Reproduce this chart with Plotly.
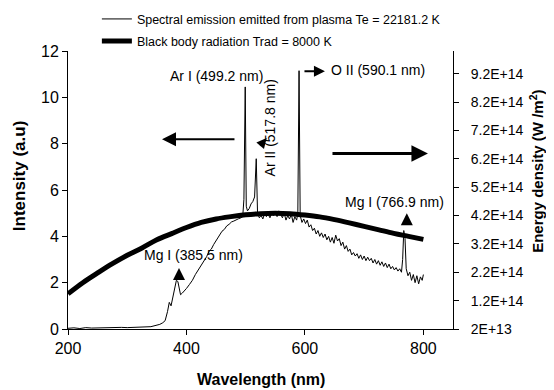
import plotly.graph_objects as go

# ---------------- data ----------------
wavelength = [
    200, 210, 220, 230, 240, 250, 260, 270, 280, 290,
    300, 310, 320, 330, 340, 345, 350, 355, 360, 364,
    368, 371, 374, 377, 380, 383, 385.5, 388, 390, 393,
    396, 400, 405, 410, 415, 420, 425, 430, 434, 438,
    442, 446, 450, 455, 460, 464, 468, 472, 476, 480,
    484, 488, 492, 495, 497, 499.2, 501, 503, 506, 509,
    512, 515, 517.8, 520, 523, 526, 529, 532, 535, 538,
    541, 544, 547, 550, 553, 556, 559, 562, 565, 568,
    571, 574, 577, 580, 583, 586, 588, 590.1, 592, 595,
    598, 601, 604, 607, 610, 613, 616, 619, 622, 625,
    628, 631, 634, 637, 640, 643, 646, 649, 652, 655,
    658, 661, 664, 667, 670, 673, 676, 679, 682, 685,
    688, 691, 694, 697, 700, 703, 706, 709, 712, 715,
    718, 721, 724, 727, 730, 733, 736, 739, 742, 745,
    748, 751, 754, 757, 760, 763, 765, 766.9, 769, 771,
    774, 777, 780, 783, 786, 789, 792, 795, 798, 800,
]
intensity = [
    0.03, 0.05, 0.02, 0.06, 0.04, 0.05, 0.03, 0.06, 0.05, 0.07,
    0.06, 0.08, 0.07, 0.09, 0.10, 0.13, 0.16, 0.20, 0.27, 0.36,
    0.75, 1.15, 1.00, 1.40, 1.65, 2.10, 2.05, 1.65, 1.48, 1.55,
    1.62, 1.75, 1.92, 2.10, 2.35, 2.55, 2.80, 2.95, 3.12, 3.35,
    3.45, 3.65, 3.80, 4.00, 4.22, 4.30, 4.45, 4.52, 4.62, 4.66,
    4.72, 4.76, 4.80, 4.85, 5.60, 10.45, 5.30, 5.10, 5.20, 5.40,
    5.50, 5.70, 7.35, 5.00, 4.80, 4.90, 4.75, 5.00, 4.85, 4.95,
    4.80, 5.05, 4.90, 5.00, 4.85, 5.10, 4.95, 4.80, 5.00, 4.70,
    4.90, 4.75, 4.95, 4.60, 4.85, 4.70, 5.00, 11.15, 4.90, 4.60,
    4.75, 4.55, 4.70, 4.40, 4.50, 4.25, 4.35, 4.10, 4.25, 4.00,
    4.15, 3.95, 4.10, 3.85, 4.00, 3.75, 3.95, 3.70, 4.05, 3.80,
    3.90, 3.60, 3.75, 3.45, 3.60, 3.35, 3.45, 3.20, 3.30, 3.15,
    3.25, 3.05, 3.20, 3.00, 3.15, 2.95, 3.10, 2.95, 3.05, 2.85,
    3.00, 2.80, 2.95, 2.75, 2.90, 2.70, 2.85, 2.65, 2.80, 2.60,
    2.70, 2.55, 2.65, 2.50, 2.60, 2.45, 3.00, 4.25, 3.90, 2.60,
    2.30, 2.45, 2.10, 2.35, 2.00, 2.30, 1.95, 2.25, 2.10, 2.35,
]

bb_wavelength = [200, 225, 250, 275, 300, 325, 350, 375, 400, 425, 450, 475, 500,
                 525, 550, 575, 600, 625, 650, 675, 700, 725, 750, 775, 800]
bb_energy = [1.441e14, 1.833e14, 2.176e14, 2.503e14, 2.797e14, 3.058e14, 3.344e14,
             3.564e14, 3.777e14, 3.956e14, 4.079e14, 4.161e14, 4.226e14, 4.267e14,
             4.283e14, 4.267e14, 4.218e14, 4.152e14, 4.054e14, 3.940e14, 3.818e14,
             3.695e14, 3.573e14, 3.466e14, 3.360e14]

x_ticks = [200, 400, 600, 800]
y_ticks = [0, 2, 4, 6, 8, 10, 12]
y2_ticks = [2e13, 1.2e14, 2.2e14, 3.2e14, 4.2e14, 5.2e14, 6.2e14, 7.2e14, 8.2e14, 9.2e14]
y2_labels = ["2E+13", "1.2E+14", "2.2E+14", "3.2E+14", "4.2E+14", "5.2E+14",
             "6.2E+14", "7.2E+14", "8.2E+14", "9.2E+14"]

# line labels: (text, x, y, angle)
line_labels = [
    ("Ar I (499.2 nm)", 450, 10.94, 0),
    ("O II (590.1 nm)", 724, 11.2, 0),
    ("Ar II (517.8 nm)", 541, 8.7, -90),
    ("Mg I (385.5 nm)", 412, 3.19, 0),
    ("Mg I (766.9 nm)", 752, 5.49, 0),
]
# arrows: (head x, head y, tail x, tail y, width, size)
arrows = [
    (358.7, 8.19, 483.6, 8.19, 2, 1.4),
    (807.7, 7.58, 644.0, 7.58, 3, 1.1),
    (633.8, 11.13, 596.7, 11.13, 2, 1.1),
    (535.4, 8.24, 522.4, 7.85, 2, 1.0),
    (387.4, 2.63, 387.4, 2.25, 2, 1.2),
    (772.0, 5.00, 772.0, 4.55, 2, 1.2),
]

FONT = "Arial, Liberation Sans, sans-serif"

fig = go.Figure()
fig.add_trace(go.Scatter(
    x=wavelength, y=intensity, mode="lines",
    line=dict(color="black", width=1),
    name="Spectral emission emitted from plasma Te = 22181.2 K",
    legend="legend",
))
fig.add_trace(go.Scatter(
    x=bb_wavelength, y=bb_energy, mode="lines", yaxis="y2",
    line=dict(color="black", width=5, shape="spline"),
    name="Black body radiation Trad = 8000 K",
    legend="legend2",
))

annotations = []
for text, x, y, ang in line_labels:
    annotations.append(dict(x=x, y=y, xref="x", yref="y", text=text, showarrow=False,
                            textangle=ang, font=dict(size=14, color="black", family=FONT),
                            xanchor="center", yanchor="middle"))
for hx, hy, tx, ty, w, s in arrows:
    annotations.append(dict(x=hx, y=hy, ax=tx, ay=ty, xref="x", yref="y",
                            axref="x", ayref="y", text="", showarrow=True,
                            arrowhead=2, arrowwidth=w, arrowsize=s, arrowcolor="black",
                            standoff=0, startstandoff=0))
annotations += [
    dict(x=0.501, y=-0.183, xref="paper", yref="paper", text="<b>Wavelength (nm)</b>",
         showarrow=False, xanchor="center", yanchor="middle",
         font=dict(size=16, color="black", family=FONT)),
    dict(x=-0.127, y=0.55, xref="paper", yref="paper", text="<b>Intensity (a.u)</b>",
         showarrow=False, textangle=-90, xanchor="center", yanchor="middle",
         font=dict(size=17, color="black", family=FONT)),
    dict(x=1.215, y=0.568, xref="paper", yref="paper",
         text="<b>Energy density (W /m<sup>2</sup>)</b>",
         showarrow=False, textangle=-90, xanchor="center", yanchor="middle",
         font=dict(size=15, color="black", family=FONT)),
]

# page body has an 8px margin: figure is 546x382 so it fills the 554x390 window
fig.update_layout(
    width=546, height=382,
    margin=dict(l=60, r=101, t=43, b=61, autoexpand=False),
    paper_bgcolor="white", plot_bgcolor="white",
    font=dict(family=FONT, color="black"),
    showlegend=True,
    xaxis=dict(range=[200, 850], tickvals=x_ticks, ticks="outside", ticklen=5,
               showline=True, linecolor="black", linewidth=1, showgrid=False,
               zeroline=False, tickfont=dict(size=16), tickcolor="black"),
    yaxis=dict(range=[0, 12], tickvals=y_ticks, ticks="outside", ticklen=5,
               showline=True, linecolor="black", linewidth=1, showgrid=False,
               zeroline=False, tickfont=dict(size=16), tickcolor="black"),
    yaxis2=dict(range=[2e13, 1e15], overlaying="y", side="right",
                tickvals=y2_ticks, ticktext=y2_labels, ticks="outside", ticklen=5,
                showline=True, linecolor="black", linewidth=1, showgrid=False,
                zeroline=False, tickfont=dict(size=14), tickcolor="black",
                ticklabelstandoff=9),
    legend=dict(x=0.075, y=1.114, xanchor="left", yanchor="middle",
                font=dict(size=12.5, family=FONT), bgcolor="rgba(0,0,0,0)"),
    legend2=dict(x=0.075, y=1.035, xanchor="left", yanchor="middle",
                 font=dict(size=12.5, family=FONT), bgcolor="rgba(0,0,0,0)"),
    annotations=annotations,
)

fig.write_html("out.html")
